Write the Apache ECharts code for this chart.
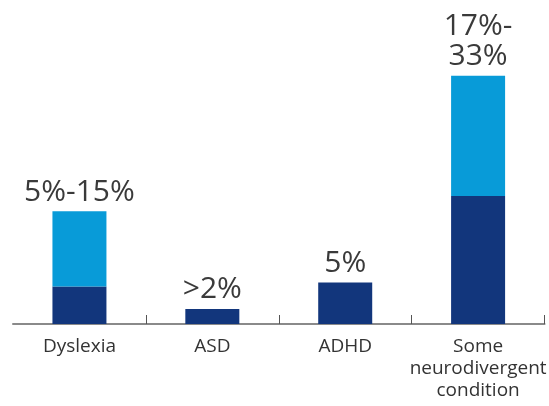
<!DOCTYPE html>
<html><head><meta charset="utf-8">
<script src="https://cdn.jsdelivr.net/npm/echarts@6/dist/echarts.min.js"></script>
<style>html,body{margin:0;padding:0;background:#fff}#c{width:549px;height:406px}</style>
</head><body><div id="c"></div>
<script>
const categories = ["Dyslexia", "ASD", "ADHD", "Some\nneurodivergent\ncondition"];
const lowerValues = [5, 2, 5.5, 17];
const upperExtra = [10, null, null, 16];
const valueLabels = ["5%-15%", ">2%", "5%", "17%-\n33%"];

const labelStyle = {
  show: true, position: 'top', distance: 4,
  fontFamily: 'Open Sans', fontSize: 30, color: '#3a3a3a', lineHeight: 30
};

const darkData = lowerValues.map((v, i) => ({
  value: v,
  label: upperExtra[i] == null ? Object.assign({}, labelStyle, {formatter: valueLabels[i]}) : {show: false}
}));
const lightData = upperExtra.map((v, i) => (v == null ? '-' : {
  value: v,
  label: Object.assign({}, labelStyle, {formatter: valueLabels[i]})
}));

const chart = echarts.init(document.getElementById('c'));
chart.setOption({
  animation: false,
  grid: {left: 13, right: 0, top: 23, bottom: 82},
  xAxis: {
    type: 'category', data: categories,
    axisLine: {lineStyle: {color: '#8a8a8a', width: 2}},
    axisTick: {show: true, inside: true, length: 9, interval: function (i) { return i > 0; }, lineStyle: {color: '#555', width: 1}},
    axisLabel: {interval: 0, fontFamily: 'Open Sans', fontSize: 19, color: '#333', lineHeight: 22, margin: 12}
  },
  yAxis: {type: 'value', min: 0, max: 40, show: false, splitLine: {show: false}},
  series: [
    {type: 'bar', stack: 's', barWidth: 54, itemStyle: {color: '#12367c'}, data: darkData},
    {type: 'bar', stack: 's', barWidth: 54, itemStyle: {color: '#089bd8'}, data: lightData}
  ]
});
</script></body></html>
